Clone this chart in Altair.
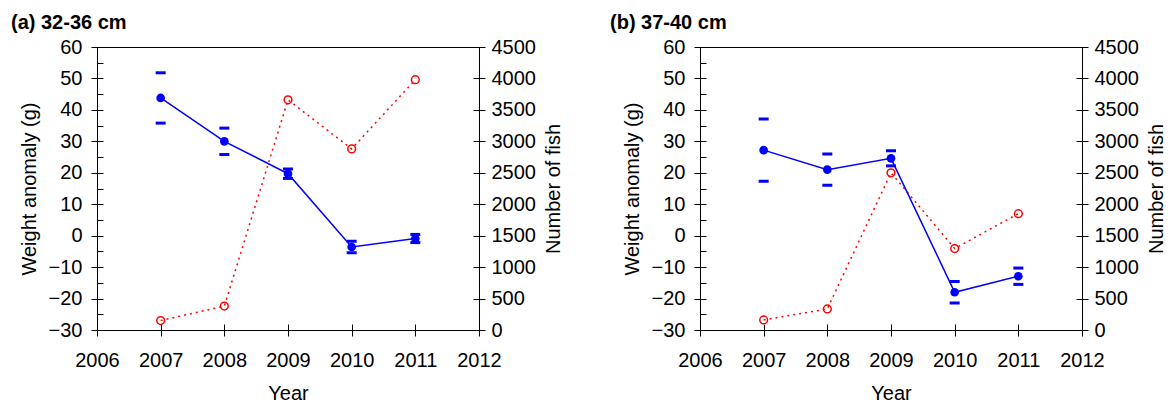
import altair as alt
import pandas as pd

FONT = "Liberation Sans"
BLUE = "#0000ff"
RED = "#ff0000"

years = [2007, 2008, 2009, 2010, 2011]

# (a) 32-36 cm
w_a = [43.8, 30.0, 19.7, -3.6, -0.9]
e_a = [8.0, 4.2, 1.5, 1.8, 1.3]
n_a = [150, 380, 3660, 2880, 3980]

# (b) 37-40 cm
w_b = [27.2, 21.0, 24.6, -18.0, -12.9]
e_b = [9.9, 5.0, 2.4, 3.4, 2.6]
n_b = [160, 335, 2500, 1295, 1850]

x_ticks = [2006, 2007, 2008, 2009, 2010, 2011, 2012]
w_major = [-30, -20, -10, 0, 10, 20, 30, 40, 50, 60]
w_minor = [-30, -25, -20, -15, -10, -5, 0, 5, 10, 15, 20, 25, 30, 35, 40, 45, 50, 55, 60]
n_ticks = [0, 500, 1000, 1500, 2000, 2500, 3000, 3500, 4000, 4500]

xs = alt.Scale(domain=[2006, 2012], nice=False, zero=False)
ws = alt.Scale(domain=[-30, 60], nice=False, zero=False)
ns = alt.Scale(domain=[0, 4500], nice=False, zero=False)

TICK = 6


def make_panel(w, e, n, title_text, title_dx):
    df = pd.DataFrame({
        "year": years,
        "w": w,
        "lo": [v - d for v, d in zip(w, e)],
        "hi": [v + d for v, d in zip(w, e)],
        "n": n,
    })
    base = alt.Chart(df)

    x_main = alt.X("year:Q", scale=xs, axis=alt.Axis(
        values=x_ticks, format="d", title="Year", tickSize=TICK,
        labelPadding=14, titlePadding=13, orient="bottom",
        labelFlush=False, labelOverlap=False))
    x_in = alt.X("year:Q", scale=xs, axis=alt.Axis(
        values=x_ticks, offset=-TICK, tickSize=TICK, labels=False,
        title=None, orient="bottom"))
    x_none = alt.X("year:Q", scale=xs, axis=None)

    y_main = alt.Y("w:Q", scale=ws, axis=alt.Axis(
        values=w_major, format="d", tickSize=TICK, labelPadding=9,
        title="Weight anomaly (g)", titlePadding=9, orient="left",
        labelFlush=False, labelOverlap=False))
    y_in = alt.Y("w:Q", scale=ws, axis=alt.Axis(
        values=w_minor, offset=-TICK, tickSize=TICK, labels=False,
        title=None, orient="left"))

    wline = base.mark_line(color=BLUE, strokeWidth=1.5).encode(x=x_main, y=y_main)
    wpts = base.mark_point(shape="circle", filled=True, color=BLUE, size=75,
                           opacity=1).encode(x=x_in, y=y_in)
    caplo = base.mark_tick(orient="horizontal", size=10, thickness=3,
                           color=BLUE, opacity=1).encode(
        x=x_none, y=alt.Y("lo:Q", scale=ws, axis=None))
    caphi = base.mark_tick(orient="horizontal", size=10, thickness=3,
                           color=BLUE, opacity=1).encode(
        x=x_none, y=alt.Y("hi:Q", scale=ws, axis=None))

    n_main = alt.Y("n:Q", scale=ns, axis=alt.Axis(
        values=n_ticks, format="d", orient="right", tickSize=TICK,
        labelPadding=6, title="Number of fish", titleAngle=270,
        titleBaseline="top", titlePadding=8,
        labelFlush=False, labelOverlap=False))
    n_in = alt.Y("n:Q", scale=ns, axis=alt.Axis(
        values=n_ticks, orient="right", offset=-TICK, tickSize=TICK,
        labels=False, title=None))

    fline = base.mark_line(color=RED, strokeWidth=1.5, strokeDash=[2, 4]).encode(
        x=x_none, y=n_main)
    fpts = base.mark_point(shape="circle", filled=False, color=RED, size=60,
                           strokeWidth=1.5, opacity=1).encode(x=x_none, y=n_in)

    wl = alt.layer(wline, wpts, caplo, caphi).resolve_scale(
        x="shared", y="shared").resolve_axis(x="independent", y="independent")
    fl = alt.layer(fline, fpts).resolve_scale(
        x="shared", y="shared").resolve_axis(x="independent", y="independent")

    return alt.layer(fl, wl).resolve_scale(
        x="shared", y="independent").resolve_axis(
        x="independent", y="independent").properties(
        width=382, height=283,
        title=alt.TitleParams(title_text, anchor="start", frame="group",
                              dx=title_dx, fontSize=20, fontWeight="bold",
                              font=FONT, color="black", offset=4))


pa = make_panel(w_a, e_a, n_a, "(a) 32-36 cm", -86)
pb = make_panel(w_b, e_b, n_b, "(b) 37-40 cm", -90)

chart = alt.hconcat(pa, pb, spacing=45).properties(
    padding={"left": 10, "top": 12, "right": 0, "bottom": 0}
).configure_view(stroke="black", strokeWidth=1).configure_axis(
    labelFont=FONT, titleFont=FONT, labelFontSize=20, titleFontSize=20,
    titleFontWeight="normal", labelColor="black", titleColor="black",
    tickColor="black", tickWidth=1, domain=False, grid=False,
).configure_concat(spacing=45)

chart.save("out.html", embed_options={"renderer": "svg", "actions": False})
